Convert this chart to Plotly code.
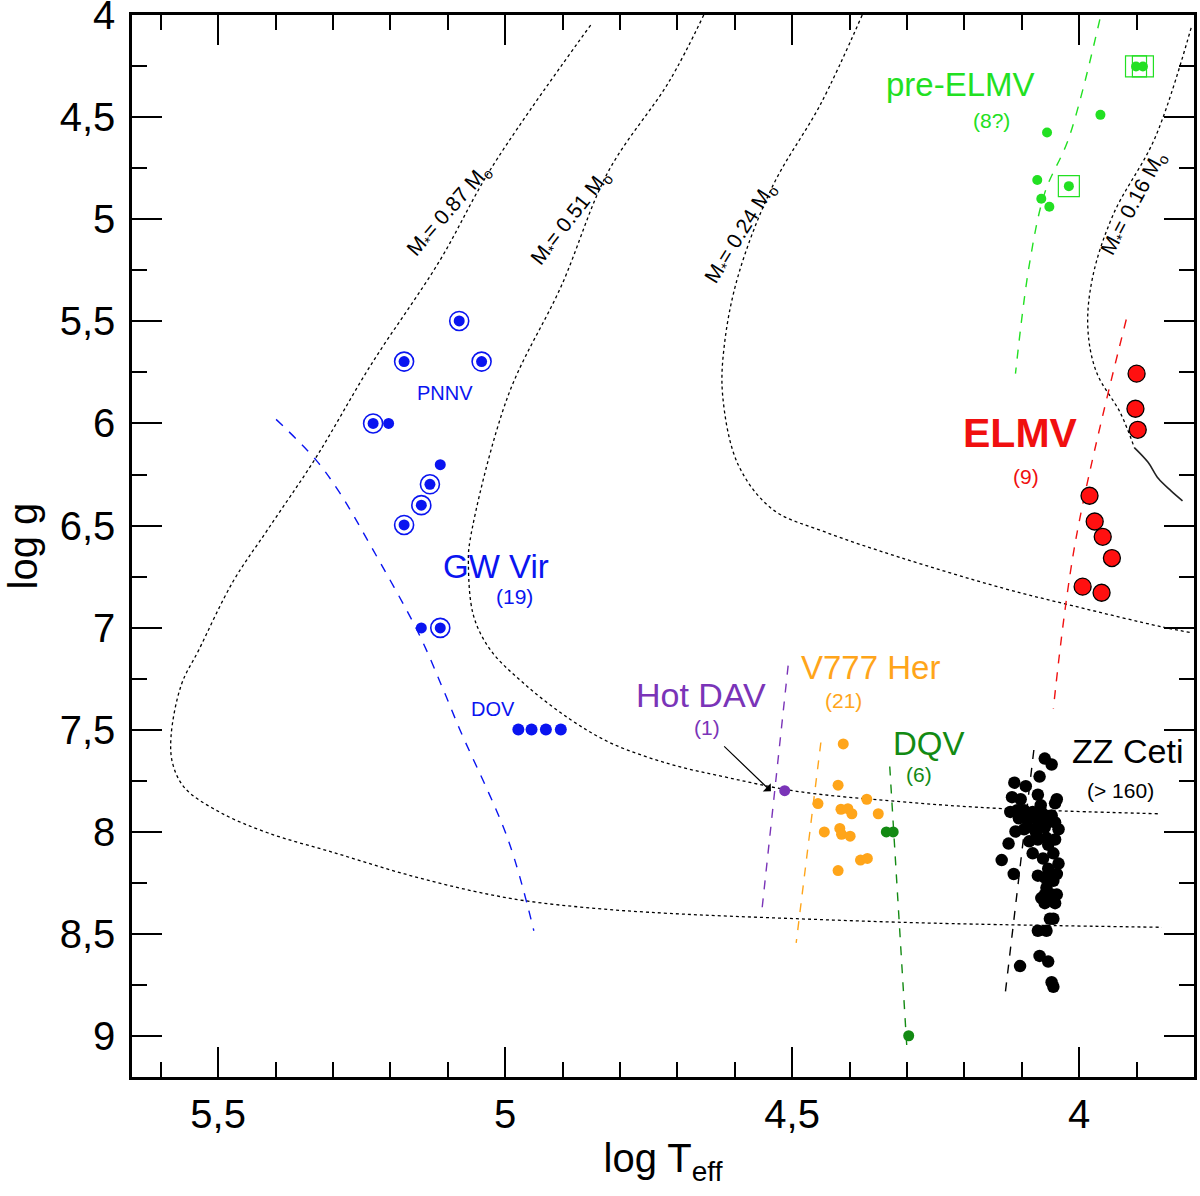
import plotly.graph_objects as go

# --- ticks ---
x_tick_vals = [5.5, 5.0, 4.5, 4.0]
x_tick_text = ["5,5", "5", "4,5", "4"]
y_tick_vals = [4.0, 4.5, 5.0, 5.5, 6.0, 6.5, 7.0, 7.5, 8.0, 8.5, 9.0]
y_tick_text = ["4", "4,5", "5", "5,5", "6", "6,5", "7", "7,5", "8", "8,5", "9"]

# --- evolutionary tracks (log Teff, log g) ---
trk087_x = [4.851, 5.025, 5.115, 5.234, 5.330, 5.414, 5.474, 5.534, 5.564, 5.582, 5.579,
            5.558, 5.498, 5.414, 5.294, 5.175, 5.055, 4.965, 4.845, 4.714, 4.492, 4.252, 3.856]
trk087_y = [4.049, 4.754, 5.208, 5.714, 6.169, 6.521, 6.774, 7.111, 7.279, 7.532, 7.667,
            7.785, 7.902, 8.004, 8.105, 8.206, 8.290, 8.337, 8.374, 8.399, 8.425, 8.447, 8.467]
trk051_x = [4.654, 4.714, 4.821, 4.902, 4.995, 5.061, 5.064, 5.055, 5.025, 4.965, 4.887,
            4.815, 4.714, 4.612, 4.492, 4.312, 4.132, 3.862]
trk051_y = [4.000, 4.324, 4.770, 5.326, 5.865, 6.570, 6.689, 6.942, 7.111, 7.279, 7.448,
            7.566, 7.667, 7.734, 7.801, 7.852, 7.886, 7.911]
trk024_x = [4.378, 4.450, 4.534, 4.594, 4.618, 4.621, 4.594, 4.534, 4.444, 4.312,
            4.132, 4.012, 3.856, 3.802]
trk024_y = [4.000, 4.434, 4.838, 5.276, 5.613, 5.865, 6.202, 6.421, 6.530, 6.656,
            6.807, 6.892, 6.996, 7.026]
trk016_x = [3.805, 3.868, 3.940, 3.976, 3.985, 3.970, 3.928, 3.904]
trk016_y = [4.063, 4.602, 4.973, 5.276, 5.529, 5.748, 5.950, 6.118]
trk016_end_x = [3.904, 3.880, 3.862, 3.840, 3.820]
trk016_end_y = [6.118, 6.190, 6.270, 6.330, 6.379]

track_labels = ["M<sub>*</sub>= 0.87 M<sub>o</sub>", "M<sub>*</sub>= 0.51 M<sub>o</sub>",
                "M<sub>*</sub>= 0.24 M<sub>o</sub>", "M<sub>*</sub>= 0.16 M<sub>o</sub>"]
track_label_x = [5.097, 4.886, 4.589, 3.904]
track_label_y = [4.955, 4.993, 5.069, 4.922]
track_label_ang = [-49, -52, -58, -62]

# --- instability strip edges ---
gwvir_edge_x = [5.399, 5.330, 5.288, 5.240, 5.151, 5.109, 5.079, 4.995, 4.950]
gwvir_edge_y = [5.980, 6.177, 6.340, 6.570, 7.026, 7.295, 7.498, 8.037, 8.484]
preelm_edge_x = [3.964, 4.018, 4.060, 4.087, 4.111]
preelm_edge_y = [4.021, 4.602, 4.871, 5.225, 5.756]
elm_edge_x = [3.918, 4.006, 4.045]
elm_edge_y = [5.491, 6.570, 7.397]
hotdav_edge_x = [4.507, 4.553]
hotdav_edge_y = [7.186, 8.391]
v777_edge_x = [4.450, 4.493]
v777_edge_y = [7.562, 8.543]
dqv_edge_x = [4.330, 4.300]
dqv_edge_y = [7.680, 9.065]
zz_edge_x = [4.079, 4.129]
zz_edge_y = [7.599, 8.795]

# --- pulsators ---
gw_ring_x = [5.080, 5.176, 5.041, 5.230, 5.131, 5.146, 5.176, 5.113]
gw_ring_y = [5.498, 5.697, 5.697, 6.000, 6.298, 6.400, 6.497, 7.001]
gw_dot_x = [5.203, 5.113, 5.146]
gw_dot_y = [6.000, 6.202, 7.001]
dov_x = [4.977, 4.954, 4.929, 4.903]
dov_y = [7.498, 7.498, 7.498, 7.498]

hotdav_x = [4.513]
hotdav_y = [7.798]

v777_x = [4.411, 4.420, 4.455, 4.370, 4.415, 4.403, 4.396, 4.350, 4.444, 4.417, 4.414,
          4.399, 4.420, 4.381, 4.369]
v777_y = [7.569, 7.771, 7.861, 7.840, 7.889, 7.886, 7.911, 7.911, 8.000, 7.983, 8.012,
          8.021, 8.189, 8.138, 8.130]

dqv_x = [4.336, 4.324, 4.297]
dqv_y = [8.000, 8.000, 8.998]

zz_x = [4.060, 4.048, 4.069, 4.113, 4.093, 4.072, 4.039, 4.117, 4.102, 4.042, 4.067, 4.120,
        4.108, 4.081, 4.063, 4.105, 4.090, 4.072, 4.054, 4.042, 4.111, 4.096, 4.078, 4.060,
        4.036, 4.087, 4.123, 4.072, 4.042, 4.054, 4.081, 4.063, 4.045, 4.135, 4.036, 4.054,
        4.072, 4.114, 4.045, 4.057, 4.039, 4.060, 4.051, 4.045, 4.072, 4.057, 4.069, 4.054,
        4.103, 4.048, 4.045, 4.060, 4.048, 4.066, 4.075, 4.057, 4.096, 4.084, 4.048, 4.039,
        4.060, 4.048, 4.066, 4.042]
zz_y = [7.641, 7.670, 7.729, 7.759, 7.776, 7.818, 7.840, 7.830, 7.840, 7.860, 7.869, 7.902,
        7.894, 7.902, 7.919, 7.933, 7.945, 7.945, 7.953, 7.953, 7.998, 7.987, 7.987, 7.978,
        7.987, 8.046, 8.057, 8.037, 8.037, 8.063, 8.105, 8.130, 8.105, 8.138, 8.155, 8.180,
        8.214, 8.206, 8.239, 8.273, 8.307, 8.349, 8.425, 8.425, 8.484, 8.484, 8.607, 8.635,
        8.657, 8.736, 8.758, 8.307, 8.206, 7.902, 8.004, 8.029, 7.894, 7.919, 7.919, 8.206,
        8.223, 8.307, 8.324, 8.349]

elmv_x = [3.900, 3.902, 3.898, 3.982, 3.973, 3.959, 3.943, 3.994, 3.961]
elmv_y = [5.756, 5.928, 6.031, 6.354, 6.480, 6.555, 6.659, 6.799, 6.829]

preelm_x = [4.073, 4.056, 3.963, 4.066, 4.052, 4.018, 3.901, 3.889]
preelm_y = [4.808, 4.575, 4.489, 4.900, 4.939, 4.838, 4.252, 4.252]
preelm_box_x = [4.018, 3.901, 3.889]
preelm_box_y = [4.838, 4.252, 4.252]

# --- class labels ---
lab_text = ["PNNV", "GW Vir", "(19)", "DOV", "Hot DAV", "(1)", "V777 Her", "(21)",
            "DQV", "(6)", "ZZ Ceti", "(> 160)", "<b>ELMV</b>", "(9)", "pre-ELMV", "(8?)"]
lab_x = [5.104, 5.016, 4.983, 5.022, 4.658, 4.648, 4.363, 4.411,
         4.261, 4.279, 3.916, 3.928, 4.102, 4.093, 4.207, 4.153]
lab_y = [5.852, 6.698, 6.849, 7.397, 7.330, 7.490, 7.195, 7.355,
         7.569, 7.717, 7.604, 7.796, 6.047, 6.261, 4.341, 4.518]
lab_size = [20, 33, 21, 20, 34, 21, 33, 21, 33, 21, 34, 21, 41, 21, 33, 21]

BLUE = "#0a14f0"
GREEN = "#22e022"
DGREEN = "#138a13"
ORANGE = "#ffa51a"
PURPLE = "#7a34b8"
RED = "#f01010"
lab_color = [BLUE, BLUE, BLUE, BLUE, PURPLE, PURPLE, ORANGE, ORANGE,
             DGREEN, DGREEN, "black", "black", RED, RED, GREEN, GREEN]

FONT = "Liberation Sans, Arial, sans-serif"

fig = go.Figure()

# tracks
for tx, ty in [(trk087_x, trk087_y), (trk051_x, trk051_y), (trk024_x, trk024_y), (trk016_x, trk016_y)]:
    fig.add_trace(go.Scatter(x=tx, y=ty, mode="lines", line_shape="spline",
                             line=dict(color="black", width=1.3, dash="dot")))
fig.add_trace(go.Scatter(x=trk016_end_x, y=trk016_end_y, mode="lines", line_shape="spline",
                         line=dict(color="#222222", width=1.6)))

# strip edges
for ex, ey, col in [(gwvir_edge_x, gwvir_edge_y, BLUE), (preelm_edge_x, preelm_edge_y, GREEN),
                    (elm_edge_x, elm_edge_y, RED), (hotdav_edge_x, hotdav_edge_y, PURPLE),
                    (v777_edge_x, v777_edge_y, ORANGE), (dqv_edge_x, dqv_edge_y, DGREEN),
                    (zz_edge_x, zz_edge_y, "black")]:
    fig.add_trace(go.Scatter(x=ex, y=ey, mode="lines", line_shape="spline",
                             line=dict(color=col, width=1.4, dash="dash")))

# points
fig.add_trace(go.Scatter(x=gw_ring_x, y=gw_ring_y, mode="markers",
                         marker=dict(symbol="circle-open", size=19, color=BLUE, line=dict(width=1.6, color=BLUE))))
fig.add_trace(go.Scatter(x=gw_ring_x + gw_dot_x, y=gw_ring_y + gw_dot_y, mode="markers",
                         marker=dict(size=11, color=BLUE)))
fig.add_trace(go.Scatter(x=dov_x, y=dov_y, mode="markers", marker=dict(size=12, color=BLUE)))
fig.add_trace(go.Scatter(x=hotdav_x, y=hotdav_y, mode="markers", marker=dict(size=11, color=PURPLE)))
fig.add_trace(go.Scatter(x=v777_x, y=v777_y, mode="markers", marker=dict(size=11, color=ORANGE)))
fig.add_trace(go.Scatter(x=dqv_x, y=dqv_y, mode="markers", marker=dict(size=11, color=DGREEN)))
fig.add_trace(go.Scatter(x=zz_x, y=zz_y, mode="markers", marker=dict(size=12.5, color="black")))
fig.add_trace(go.Scatter(x=elmv_x, y=elmv_y, mode="markers",
                         marker=dict(size=17, color="#ff1010", line=dict(width=1.3, color="black"))))
fig.add_trace(go.Scatter(x=preelm_box_x, y=preelm_box_y, mode="markers",
                         marker=dict(symbol="square-open", size=21, color=GREEN, line=dict(width=1.2, color=GREEN))))
fig.add_trace(go.Scatter(x=preelm_x, y=preelm_y, mode="markers", marker=dict(size=10, color=GREEN)))

# labels
for t, x, y, s, c in zip(lab_text, lab_x, lab_y, lab_size, lab_color):
    fig.add_annotation(x=x, y=y, text=t, showarrow=False, xref="x", yref="y",
                       font=dict(family=FONT, size=s, color=c))
for t, x, y, a in zip(track_labels, track_label_x, track_label_y, track_label_ang):
    fig.add_annotation(x=x, y=y, text=t, showarrow=False, textangle=a, xref="x", yref="y",
                       font=dict(family=FONT, size=21, color="black"))

# arrow to the hot DAV
fig.add_annotation(x=4.537, y=7.801, ax=4.621, ay=7.574, axref="x", ayref="y", xref="x", yref="y",
                   text="", showarrow=True, arrowhead=1, arrowsize=1.6, arrowwidth=1.2, arrowcolor="black")

axis_common = dict(
    showgrid=False, zeroline=False, showline=True, linecolor="black", linewidth=2.5,
    mirror="allticks", ticks="inside", ticklen=30, tickwidth=2, tickcolor="black",
    tickfont=dict(family=FONT, size=40, color="black"), automargin=False,
    ticklabeloverflow="allow",
)

fig.update_layout(
    width=1200, height=1196,
    margin=dict(l=132, r=6, t=15, b=119),
    paper_bgcolor="white", plot_bgcolor="white",
    showlegend=False,
    xaxis=dict(range=[5.65, 3.80], tickvals=x_tick_vals, ticktext=x_tick_text,
               minor=dict(ticks="inside", ticklen=15, tickwidth=2, tickcolor="black", dtick=0.1, tick0=4.0),
               title=dict(text="log T<sub>eff</sub>", font=dict(family=FONT, size=40, color="black"), standoff=10),
               ticklabelstandoff=0, **axis_common),
    yaxis=dict(range=[9.2, 4.0], tickvals=y_tick_vals, ticktext=y_tick_text,
               minor=dict(ticks="inside", ticklen=15, tickwidth=2, tickcolor="black", dtick=0.25, tick0=4.0),
               title=dict(text="log g", font=dict(family=FONT, size=40, color="black"), standoff=10),
               ticklabelstandoff=6, **axis_common),
)

# the page body has a default 8px margin; drop it so the figure sits at the corner
fig.write_html("out.html", config={"displayModeBar": False},
               post_script="document.body.style.margin='0';")
